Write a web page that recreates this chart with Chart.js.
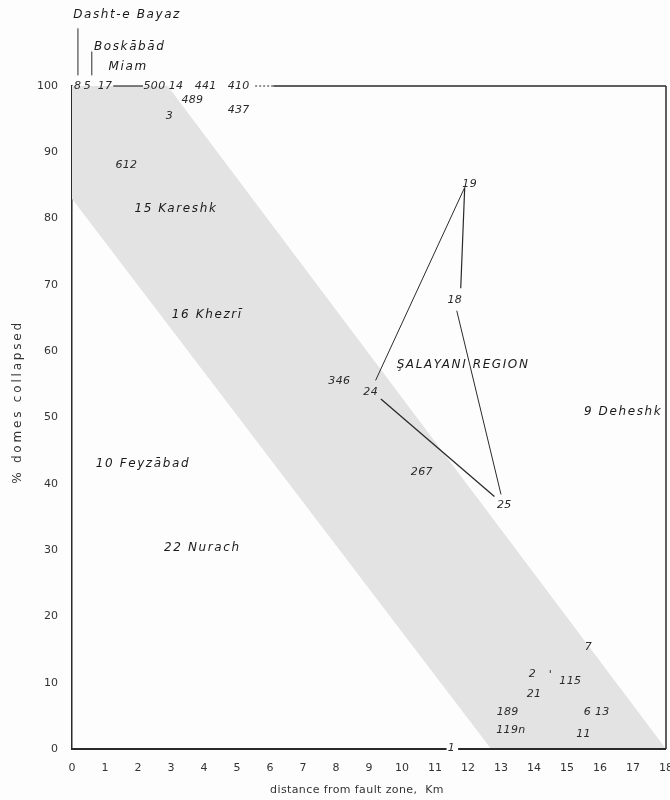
<!DOCTYPE html>
<html>
<head>
<meta charset="utf-8">
<script src="https://cdn.jsdelivr.net/npm/chart.js@4"></script>
<style>
  html, body { margin: 0; padding: 0; background: #fdfdfd; }
  canvas { display: block; }
</style>
</head>
<body>
<canvas id="c" width="670" height="800"></canvas>
<script>
// ---- data ----
const xTicks = [0,1,2,3,4,5,6,7,8,9,10,11,12,13,14,15,16,17,18];
const yTicks = [0,10,20,30,40,50,60,70,80,90,100];

// shaded band: upper and lower boundaries
const bandUpper = [{x:0,y:100},{x:2.9,y:100},{x:18,y:0}];
const bandLower = [{x:0,y:83},{x:12.7,y:0},{x:18,y:0}];

// Salayani region triangle segments
const seg19to24 = [{x:11.9,y:84.7},{x:9.2,y:55.6}];
const seg19to18 = [{x:11.9,y:84.7},{x:11.78,y:69.5}];
const seg18to25 = [{x:11.66,y:66.1},{x:13.0,y:38.4}];
const seg24to25 = [{x:9.36,y:52.8},{x:12.8,y:38.1}];

// frame pieces
const topDash17 = [{x:1.25,y:100},{x:2.15,y:100}];
const topDotted = [{x:5.55,y:100},{x:6.1,y:100}];
const topSolid  = [{x:6.1,y:100},{x:18,y:100}];
const rightEdge = [{x:18,y:0},{x:18,y:100}];
const bottomA   = [{x:0,y:0},{x:11.35,y:0}];
const bottomB   = [{x:11.7,y:0},{x:18,y:0}];
const leaderDasht = [{x:0.18,y:101.6},{x:0.18,y:108.7}];
const leaderBosk  = [{x:0.6,y:101.6},{x:0.6,y:105.2}];

// site labels: text, x (km), y (%)
const labelText = ["8","5","17","500","14","441","410","489","437","3",
  "612","15 Kareshk","16 Khezrī","10 Feyzābad","22 Nurach",
  "346","24","ŞALAYANI REGION","19","18","267","25","9 Deheshk",
  "7","2","'","115","21","189","119n","6 13","11","1",
  "Dasht-e Bayaz","Boskābād","Miam"];
const labelX = [0.17,0.47,1.0,2.5,3.15,4.05,5.05,3.65,5.05,2.95,
  1.65,3.15,4.1,2.15,3.95,
  8.1,9.05,11.85,12.05,11.6,10.6,13.1,16.7,
  15.65,13.95,14.5,15.1,14.0,13.2,13.3,15.9,15.5,11.5,
  1.67,1.75,1.7];
const labelY = [100,100,100,100,100,100,100,97.8,96.3,95.4,
  88,81.5,65.5,43,30.3,
  55.5,53.8,57.9,85.2,67.7,41.8,36.8,50.8,
  15.3,11.3,11.1,10.3,8.3,5.6,2.9,5.6,2.3,0.2,
  110.8,105.9,102.9];

const yTitle = '% domes collapsed';
const xTitle = 'distance from fault zone,  Km';

// ---- chart ----
const ink = '#2a2a2a';
function seg(data, w, dash, clip) {
  return { data, borderColor: ink, borderWidth: w, borderDash: dash || [],
    pointRadius: 0, fill: false, tension: 0, order: 0,
    clip: clip === false ? false : undefined };
}

const labelPlugin = {
  id: 'siteLabels',
  afterDatasetsDraw(chart) {
    const {ctx, scales: {x, y}} = chart;
    ctx.save();
    ctx.textAlign = 'center';
    ctx.textBaseline = 'middle';
    const hasLS = 'letterSpacing' in ctx;
    for (let i = 0; i < labelText.length; i++) {
      const t = labelText[i];
      const isWord = /[A-Za-zĀ-ž]{3,}/.test(t);
      ctx.fillStyle = isWord ? '#1a1a1a' : ink;
      ctx.font = isWord ? 'italic 12px "DejaVu Sans"' : 'italic 11px "DejaVu Sans"';
      if (hasLS) ctx.letterSpacing = isWord ? '1.6px' : '0.3px';
      const px = x.getPixelForValue(labelX[i]);
      const py = y.getPixelForValue(labelY[i]);
      ctx.fillText(t, px, py);
    }
    // axis titles
    ctx.fillStyle = '#333';
    ctx.font = '11px "DejaVu Sans"';
    if (hasLS) ctx.letterSpacing = '0.4px';
    ctx.fillText(xTitle, 357, 790);
    ctx.font = '12px "DejaVu Sans"';
    if (hasLS) ctx.letterSpacing = '2.8px';
    ctx.translate(18, 402);
    ctx.rotate(-Math.PI / 2);
    ctx.fillText(yTitle, 0, 0);
    ctx.restore();
  }
};

new Chart(document.getElementById('c'), {
  type: 'line',
  data: {
    datasets: [
      { data: bandUpper, borderWidth: 0, pointRadius: 0, fill: false, order: 10, borderColor: 'rgba(0,0,0,0)' },
      { data: bandLower, borderWidth: 0, pointRadius: 0, fill: '-1', order: 10, backgroundColor: '#e3e3e3', borderColor: 'rgba(0,0,0,0)' },
      seg(seg19to24, 1),
      seg(seg19to18, 1.2),
      seg(seg18to25, 1),
      seg(seg24to25, 1.3),
      seg(topDash17, 1.2, [], false),
      seg(topDotted, 1, [2,2], false),
      seg(topSolid, 1.5, [], false),
      seg(rightEdge, 1.5, [], false),
      seg(bottomA, 1.8, [], false),
      seg(bottomB, 1.8, [], false),
      seg(leaderDasht, 1, [], false),
      seg(leaderBosk, 1, [], false)
    ]
  },
  options: {
    responsive: false,
    animation: false,
    devicePixelRatio: 1,
    layout: { padding: { left: 0, right: 4, top: 86, bottom: 0 } },
    plugins: { legend: { display: false }, tooltip: { enabled: false } },
    elements: { line: { borderJoinStyle: 'miter' } },
    scales: {
      x: {
        type: 'linear', min: 0, max: 18,
        afterBuildTicks: s => { s.ticks = xTicks.map(v => ({ value: v })); },
        afterFit: s => { s.height = 51; s.paddingLeft = 0; s.paddingRight = 0; },
        grid: { display: false, drawTicks: false },
        border: { display: false },
        ticks: { color: '#333', font: { family: 'DejaVu Sans', size: 11 }, padding: 13, maxRotation: 0, autoSkip: false },
        title: { display: false }
      },
      y: {
        type: 'linear', min: 0, max: 100,
        afterBuildTicks: s => { s.ticks = yTicks.map(v => ({ value: v })); },
        afterFit: s => { s.width = 72; },
        grid: { display: false, drawTicks: false },
        border: { display: true, color: ink, width: 1.5 },
        ticks: { color: '#333', font: { family: 'DejaVu Sans', size: 11 }, padding: 14, autoSkip: false },
        title: { display: false }
      }
    }
  },
  plugins: [labelPlugin]
});
</script>
</body>
</html>
